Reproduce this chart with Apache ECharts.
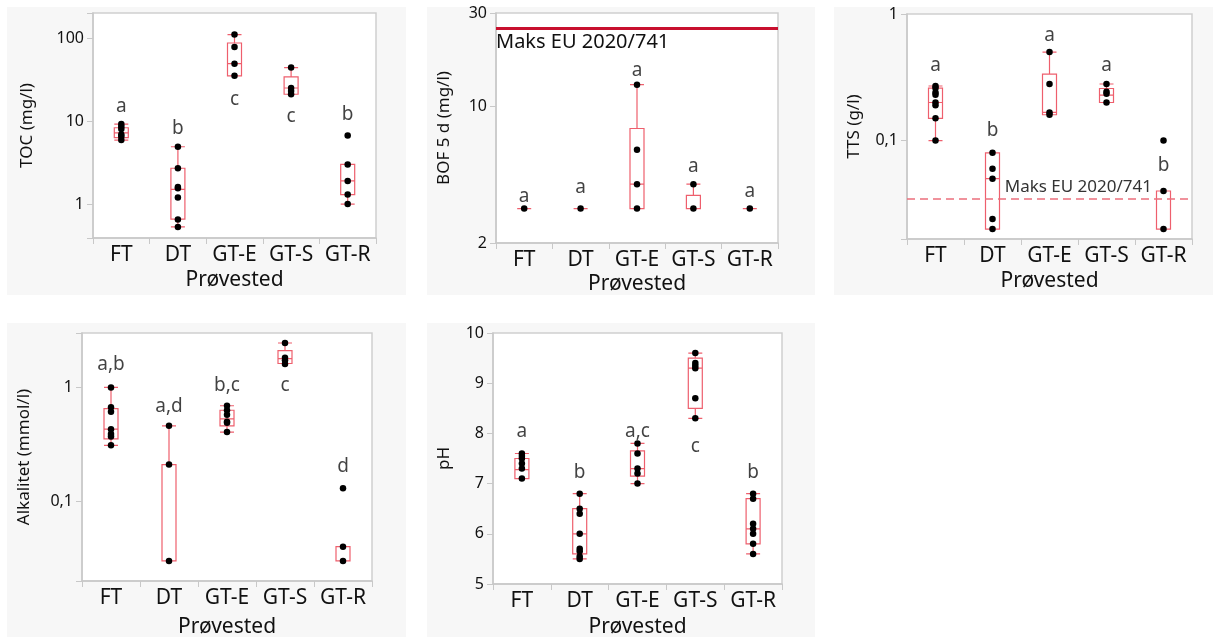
<!DOCTYPE html>
<html>
<head>
<meta charset="utf-8">
<script src="https://cdn.jsdelivr.net/npm/echarts@6/dist/echarts.min.js"></script>
<style>
html,body{margin:0;padding:0;background:#fff;}
#chart{width:1213px;height:637px;}
</style>
</head>
<body>
<div id="chart"></div>
<script>
// ---------- data ----------
const categories = ['FT', 'DT', 'GT-E', 'GT-S', 'GT-R'];

// TOC (mg/l) : [min, Q1, median, Q3, max]
const tocStats = [[5.9, 6.3, 7.2, 8.3, 9.2], [0.53, 0.66, 1.5, 2.7, 4.9], [35, 35, 49, 87, 110], [21, 21, 25, 34, 44], [1.0, 1.3, 1.9, 3.0, 3.0]];
const tocPoints = [[9.2, 8.6, 8.0, 6.9, 6.5, 5.9], [4.9, 2.7, 1.6, 1.55, 1.2, 0.65, 0.53], [110, 78, 49, 35], [44, 25, 23, 21], [6.7, 3.0, 1.9, 1.3, 1.0]];
const tocLetters = ['a', 'b', 'c', 'c', 'b'];
const tocLetterAt = [15, 8.2, 18, 11.3, 11.9];
const tocTicks = [1, 10, 100];

// BOF 5 d (mg/l)
const bofStats = [[3, 3, 3, 3, 3], [3, 3, 3, 3, 3], [3, 3, 4, 7.7, 12.9], [3, 3, 3, 3.5, 4], [3, 3, 3, 3, 3]];
const bofPoints = [[3], [3], [12.9, 6, 4, 3], [4, 3], [3]];
const bofLetters = ['a', 'a', 'a', 'a', 'a'];
const bofLetterAt = [3.44, 3.84, 15.3, 4.9, 3.65];
const bofTicks = [2, 10, 30];
const bofLimit = 25;

// TTS (g/l)
const ttsStats = [[0.1, 0.15, 0.2, 0.26, 0.27], [0.02, 0.02, 0.05, 0.08, 0.08], [0.16, 0.16, 0.167, 0.335, 0.5], [0.2, 0.2, 0.229, 0.258, 0.28], [0.02, 0.02, 0.04, 0.04, 0.04]];
const ttsPoints = [[0.27, 0.26, 0.24, 0.23, 0.2, 0.19, 0.15, 0.1], [0.08, 0.06, 0.05, 0.024, 0.02], [0.5, 0.28, 0.167, 0.16], [0.28, 0.243, 0.234, 0.2], [0.1, 0.04, 0.02]];
const ttsLetters = ['a', 'b', 'a', 'a', 'b'];
const ttsLetterAt = [0.39, 0.12, 0.67, 0.39, 0.063];
const ttsTicks = [0.1, 1];
const ttsLimit = 0.035;

// Alkalitet (mmol/l)
const alkStats = [[0.31, 0.353, 0.43, 0.65, 1.0], [0.03, 0.03, 0.03, 0.21, 0.46], [0.405, 0.46, 0.53, 0.63, 0.69], [1.62, 1.62, 1.79, 2.1, 2.45], [0.03, 0.03, 0.03, 0.04, 0.04]];
const alkPoints = [[1.0, 0.67, 0.61, 0.43, 0.39, 0.37, 0.31], [0.46, 0.21, 0.03], [0.69, 0.63, 0.575, 0.5, 0.49, 0.405], [2.45, 1.82, 1.73, 1.6], [0.13, 0.04, 0.03]];
const alkLetters = ['a,b', 'a,d', 'b,c', 'c', 'd'];
const alkLetterAt = [1.6, 0.685, 1.04, 1.04, 0.203];
const alkTicks = [0.1, 1];

// pH
const phStats = [[7.1, 7.1, 7.28, 7.5, 7.6], [5.5, 5.6, 6.0, 6.5, 6.8], [7.0, 7.15, 7.3, 7.65, 7.8], [8.3, 8.5, 9.3, 9.5, 9.6], [5.6, 5.8, 6.1, 6.7, 6.8]];
const phPoints = [[7.6, 7.55, 7.5, 7.4, 7.3, 7.1], [6.8, 6.5, 6.4, 6.0, 5.7, 5.65, 5.55, 5.5], [7.8, 7.6, 7.3, 7.2, 7.0], [9.6, 9.4, 9.35, 9.3, 8.7, 8.3], [6.8, 6.7, 6.2, 6.1, 6.0, 5.8, 5.6]];
const phLetters = ['a', 'b', 'a,c', 'c', 'b'];
const phLetterAt = [8.03, 7.22, 8.03, 7.74, 7.22];

// ---------- build ----------
const FONT = '"Noto Sans", "Open Sans", sans-serif';
const TXT = '#111111';
const BOX = '#ee5f6d';

const panels = [
  {name: 'TOC (mg/l)', stats: tocStats, pts: tocPoints, letters: tocLetters, letterAt: tocLetterAt, ticks: tocTicks, log: true, min: 0.39, max: 200,
   grid: {left: 93, top: 13, width: 283, height: 225}, nameGap: 57, xNameGap: 32},
  {name: 'BOF 5 d (mg/l)', stats: bofStats, pts: bofPoints, letters: bofLetters, letterAt: bofLetterAt, ticks: bofTicks, log: true, min: 2, max: 30,
   grid: {left: 496, top: 13, width: 282, height: 230}, nameGap: 43, xNameGap: 31},
  {name: 'TTS (g/l)', stats: ttsStats, pts: ttsPoints, letters: ttsLetters, letterAt: ttsLetterAt, ticks: ttsTicks, log: true, min: 0.0167, max: 1,
   grid: {left: 907, top: 14, width: 285, height: 225}, nameGap: 44, xNameGap: 32},
  {name: 'Alkalitet (mmol/l)', stats: alkStats, pts: alkPoints, letters: alkLetters, letterAt: alkLetterAt, ticks: alkTicks, log: true, min: 0.02, max: 3,
   grid: {left: 82, top: 333, width: 290, height: 248}, nameGap: 49, xNameGap: 36},
  {name: 'pH', stats: phStats, pts: phPoints, letters: phLetters, letterAt: phLetterAt, ticks: null, log: false, min: 5, max: 10,
   grid: {left: 493, top: 333, width: 289, height: 251}, nameGap: 40, xNameGap: 33}
];

const grids = [], xAxes = [], yAxes = [], series = [];
panels.forEach((p, i) => {
  grids.push(Object.assign({show: true, backgroundColor: '#ffffff', borderColor: '#cfcfcf', borderWidth: 1.5,
    containLabel: false, outerBoundsMode: 'none'}, p.grid));
  xAxes.push({
    type: 'category', gridIndex: i, data: categories,
    name: 'Prøvested', nameLocation: 'middle', nameGap: p.xNameGap,
    nameTextStyle: {fontFamily: FONT, fontSize: 21, color: TXT},
    axisLine: {show: true, lineStyle: {color: '#c8c8c8', width: 1.5}},
    axisTick: {show: true, length: 6, lineStyle: {color: '#c8c8c8'}},
    axisLabel: {interval: 0, margin: 7, fontFamily: FONT, fontSize: 21, color: TXT},
    splitLine: {show: false}
  });
  const ticks = p.ticks;
  yAxes.push({
    type: p.log ? 'log' : 'value', gridIndex: i, min: p.min, max: p.max,
    interval: p.log ? undefined : 1,
    splitNumber: p.log ? 2 : 5,
    name: p.name, nameLocation: 'middle', nameGap: p.nameGap, nameRotate: 90,
    nameTextStyle: {fontFamily: FONT, fontSize: 17, color: TXT},
    axisLine: {show: true, lineStyle: {color: '#c8c8c8', width: 1.5}},
    axisTick: {show: true, length: 6, lineStyle: {color: '#c8c8c8'}},
    splitLine: {show: false},
    axisLabel: {
      showMinLabel: true, showMaxLabel: true, margin: 9,
      fontFamily: FONT, fontSize: 16, color: TXT,
      formatter: function (v) {
        if (!ticks) return String(v);
        const m = ticks.find(t => Math.abs(Math.log10(v) - Math.log10(t)) < 1e-6);
        return m === undefined ? '' : String(m).replace('.', ',');
      }
    }
  });
  series.push({
    type: 'boxplot', xAxisIndex: i, yAxisIndex: i, data: p.stats,
    boxWidth: [14, 14], silent: true, z: 2,
    itemStyle: {color: 'rgba(255,255,255,0)', borderColor: BOX, borderWidth: 1.2}
  });
  const pts = [];
  p.pts.forEach((arr, c) => arr.forEach(v => pts.push([c, v])));
  const ptSeries = {
    type: 'scatter', xAxisIndex: i, yAxisIndex: i, data: pts, symbolSize: 6.5, z: 3, silent: true,
    itemStyle: {color: '#000', opacity: 1}
  };
  if (i === 1) {
    ptSeries.markLine = {
      silent: true, symbol: 'none', animation: false, precision: 6,
      lineStyle: {color: '#c8102e', width: 3, type: 'solid', opacity: 1},
      label: {show: true, position: 'insideStartBottom', formatter: 'Maks EU 2020/741', fontFamily: FONT, fontSize: 20, color: TXT, distance: [0, 4]},
      data: [{yAxis: bofLimit}]
    };
  }
  if (i === 2) {
    ptSeries.markLine = {
      silent: true, symbol: 'none', animation: false, precision: 6,
      lineStyle: {color: '#ec6f7c', width: 1.5, type: [8, 5], opacity: 1},
      label: {show: true, position: 'insideEndTop', formatter: 'Maks EU 2020/741', fontFamily: FONT, fontSize: 17, color: '#333', distance: [40, 3]},
      data: [{yAxis: ttsLimit}]
    };
  }
  series.push(ptSeries);
  const letters = p.letters;
  series.push({
    type: 'scatter', xAxisIndex: i, yAxisIndex: i, symbolSize: 1, z: 4, silent: true,
    data: p.letterAt.map((v, c) => [c, v]),
    itemStyle: {color: 'rgba(0,0,0,0)'},
    label: {show: true, position: 'inside', fontFamily: FONT, fontSize: 19, color: TXT,
            formatter: (d) => letters[d.dataIndex]}
  });
});

const panelRects = [
  [7, 7, 399, 288], [427, 7, 388, 288], [834, 7, 379, 288],
  [7, 323, 399, 314], [427, 323, 388, 314]
];

const chart = echarts.init(document.getElementById('chart'), null, {renderer: 'canvas'});
chart.setOption({
  animation: false,
  backgroundColor: '#ffffff',
  graphic: panelRects.map(r => ({type: 'rect', z: -10, silent: true,
    shape: {x: r[0], y: r[1], width: r[2], height: r[3]}, style: {fill: '#f7f7f7'}})),
  grid: grids, xAxis: xAxes, yAxis: yAxes, series: series
});
</script>
</body>
</html>
